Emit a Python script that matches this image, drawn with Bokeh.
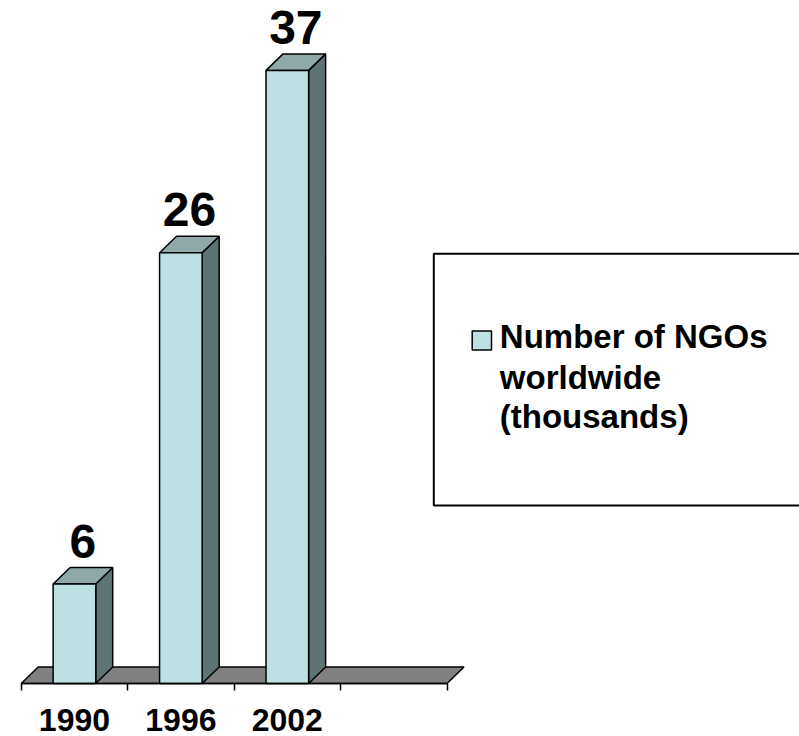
from bokeh.plotting import figure
from bokeh.models import Range1d, LinearAxis, FixedTicker
from bokeh.core.properties import value
from bokeh.embed import file_html
from bokeh.resources import INLINE

# ---- data ----
years = ["1990", "1996", "2002"]
ngos = [6, 26, 37]
n_slots = 4
legend_lines = ["Number of NGOs", "worldwide", "(thousands)"]

# ---- geometry (style) ----
W, H = 799, 736
PX_X = 106.45   # px per category slot
PX_Y = 16.57    # px per thousand NGOs
X0_PX = 20.7    # px of slot boundary 0
Y0_PX = 53.0    # px (from bottom) of value 0

x_start = -X0_PX / PX_X
x_end = x_start + W / PX_X
y_start = -Y0_PX / PX_Y
y_end = y_start + H / PX_Y

DX = 17.0 / PX_X     # depth offsets
DY = 16.5 / PX_Y
BW = 0.2             # half width of bar front
LBL_OFF = 43.0 / PX_Y


def rx(X):  # canvas px -> data x
    return x_start + X / PX_X


def ry(Y):  # canvas px (from top) -> data y
    return y_end - Y / PX_Y


FRONT = "#BCE0E3"
TOP = "#8FA9AB"
SIDE = "#5E7373"
FLOOR = "#808080"

p = figure(width=W, height=H, x_range=Range1d(x_start, x_end), y_range=Range1d(y_start, y_end),
           x_axis_type=None, y_axis_type=None, toolbar_location=None, output_backend="svg",
           min_border=0, outline_line_color=None)
p.background_fill_color = "white"
p.border_fill_color = "white"

centers = [i + 0.5 for i in range(len(ngos))]

# floor
p.patch(x=[0, n_slots, n_slots + DX, DX], y=[0, 0, DY, DY], fill_color=FLOOR,
        line_color="black", line_width=1.5)

# side faces
side_xs = [[c + BW, c + BW + DX, c + BW + DX, c + BW] for c in centers]
side_ys = [[0, DY, v + DY, v] for v in ngos]
p.patches(xs=side_xs, ys=side_ys, fill_color=SIDE, line_color="black", line_width=1.5)

# top faces
top_xs = [[c - BW, c + BW, c + BW + DX, c - BW + DX] for c in centers]
top_ys = [[v, v, v + DY, v + DY] for v in ngos]
p.patches(xs=top_xs, ys=top_ys, fill_color=TOP, line_color="black", line_width=1.5)

# front faces
front_r = p.quad(left=[c - BW for c in centers], right=[c + BW for c in centers],
                 bottom=0, top=ngos, fill_color=FRONT, line_color="black", line_width=1.5)

# value labels
p.text(x=[c + DX / 2 for c in centers], y=[v + LBL_OFF for v in ngos],
       text=[str(v) for v in ngos],
       text_align="center", text_baseline="alphabetic",
       text_font=value("Liberation Sans"), text_font_style="bold",
       text_font_size="48px", text_color="black")

# category axis on the floor front edge
ax = LinearAxis(fixed_location=0, bounds=(0, n_slots),
                ticker=FixedTicker(ticks=centers, minor_ticks=list(range(n_slots + 1))),
                major_label_overrides={c: y for c, y in zip(centers, years)})
ax.axis_line_color = "black"
ax.axis_line_width = 1.5
ax.major_tick_line_color = None
ax.major_tick_out = 0
ax.major_tick_in = 0
ax.minor_tick_out = 7
ax.minor_tick_in = 0
ax.minor_tick_line_color = "black"
ax.minor_tick_line_width = 1.5
ax.major_label_standoff = 18
ax.major_label_text_font = "Liberation Sans"
ax.major_label_text_font_style = "bold"
ax.major_label_text_font_size = "32px"
ax.major_label_text_color = "black"
p.add_layout(ax, "below")

# legend frame (open on the right, like the cut-off original)
BL, BT, BB, BR = rx(433.3), ry(253.3), ry(505.0), rx(830)
p.quad(left=BL, right=BR, top=BT, bottom=BB, fill_color="white", line_color=None)
p.line(x=[BR, BL, BL, BR], y=[BT, BT, BB, BB], line_color="black", line_width=2)

# legend swatch and label
p.quad(left=rx(471.7), right=rx(491.0), top=ry(330.5), bottom=ry(349.5),
       fill_color=FRONT, line_color="black", line_width=1.5)
p.text(x=[rx(499.3)] * 3, y=[ry(336.0), ry(376.7), ry(416.0)], text=legend_lines,
       text_align="left", text_baseline="alphabetic",
       text_font=value("Liberation Sans"), text_font_style="bold",
       text_font_size="33px", text_color="black")

open("out.html", "w").write(file_html(p, INLINE))
